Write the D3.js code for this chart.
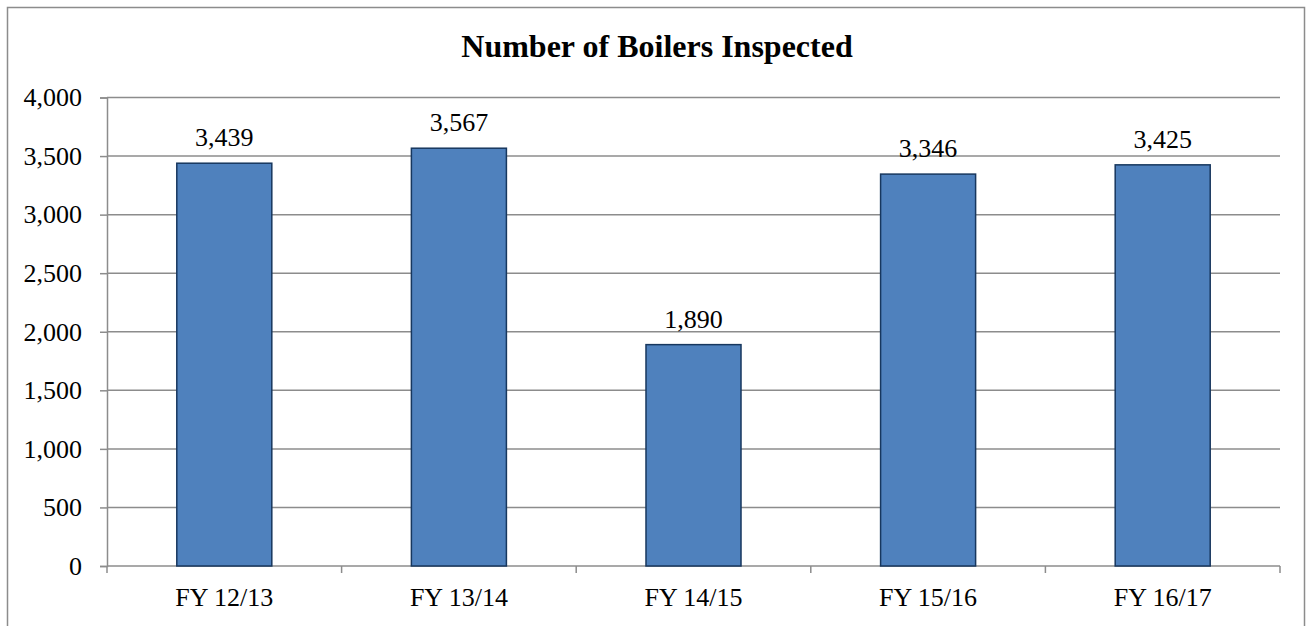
<!DOCTYPE html>
<html><head><meta charset="utf-8">
<script src="https://cdn.jsdelivr.net/npm/d3@7"></script>
<style>body{margin:0;background:#fff}</style>
</head><body>
<svg id="c" width="1310" height="626"></svg>
<script>
const categories = ["FY 12/13","FY 13/14","FY 14/15","FY 15/16","FY 16/17"];
const values = [3439,3567,1890,3346,3425];
const yTicks = [0,500,1000,1500,2000,2500,3000,3500,4000];
const title = "Number of Boilers Inspected";

const svg = d3.select("#c");
const font = "'Liberation Serif','Times New Roman',serif";
const fs = 26;
svg.append("rect").attr("x",7.5).attr("y",7.5).attr("width",1297).attr("height",630)
  .attr("fill","#fff").attr("stroke","#8c8c8c").attr("stroke-width",1.5);

const L=107, R=1280, T=97.5, B=566;
const x = d3.scaleBand().domain(categories).range([L,R]).paddingInner(0.595).paddingOuter(0.2975);
const y = d3.scaleLinear().domain([0,4000]).range([B,T]);

svg.append("text").attr("x",657).attr("y",57).attr("text-anchor","middle")
  .attr("font-family",font).attr("font-weight","bold").attr("font-size",32).text(title);

// gridlines
svg.append("g").selectAll("line").data(yTicks.filter(d=>d>0)).join("line")
  .attr("x1",L).attr("x2",R).attr("y1",d=>y(d)).attr("y2",d=>y(d))
  .attr("stroke","#8c8c8c").attr("stroke-width",1.5);

// y axis
const ya = svg.append("g").attr("transform",`translate(${L},0)`)
  .call(d3.axisLeft(y).tickValues(yTicks).tickSize(7).tickPadding(18).tickFormat(d3.format(",")));
ya.select(".domain").attr("stroke","#8c8c8c").attr("stroke-width",1.5);
ya.selectAll(".tick line").attr("stroke","#8c8c8c").attr("stroke-width",1.5);
ya.selectAll("text").attr("font-family",font).attr("font-size",fs).attr("fill","#000");

// x axis
const xa = svg.append("g").attr("transform",`translate(0,${B})`);
xa.append("line").attr("x1",L).attr("x2",R).attr("stroke","#8c8c8c").attr("stroke-width",1.5);
const bounds = d3.range(categories.length+1).map(i=>L+i*(R-L)/categories.length);
xa.selectAll("line.t").data(bounds).join("line").attr("class","t")
  .attr("x1",d=>d).attr("x2",d=>d).attr("y1",0).attr("y2",7)
  .attr("stroke","#8c8c8c").attr("stroke-width",1.5);
xa.selectAll("text").data(categories).join("text")
  .attr("x",d=>x(d)+x.bandwidth()/2).attr("y",40).attr("text-anchor","middle")
  .attr("font-family",font).attr("font-size",fs).text(d=>d);

// bars
svg.append("g").selectAll("rect").data(values).join("rect")
  .attr("x",(d,i)=>x(categories[i])).attr("width",x.bandwidth())
  .attr("y",d=>y(d)).attr("height",d=>B-y(d))
  .attr("fill","#4f81bd").attr("stroke","#17375e").attr("stroke-width",1.5);

// labels
svg.append("g").selectAll("text").data(values).join("text")
  .attr("x",(d,i)=>x(categories[i])+x.bandwidth()/2).attr("y",d=>y(d)-17)
  .attr("text-anchor","middle").attr("font-family",font).attr("font-size",fs)
  .text(d=>d3.format(",")(d));
</script>
</body></html>
